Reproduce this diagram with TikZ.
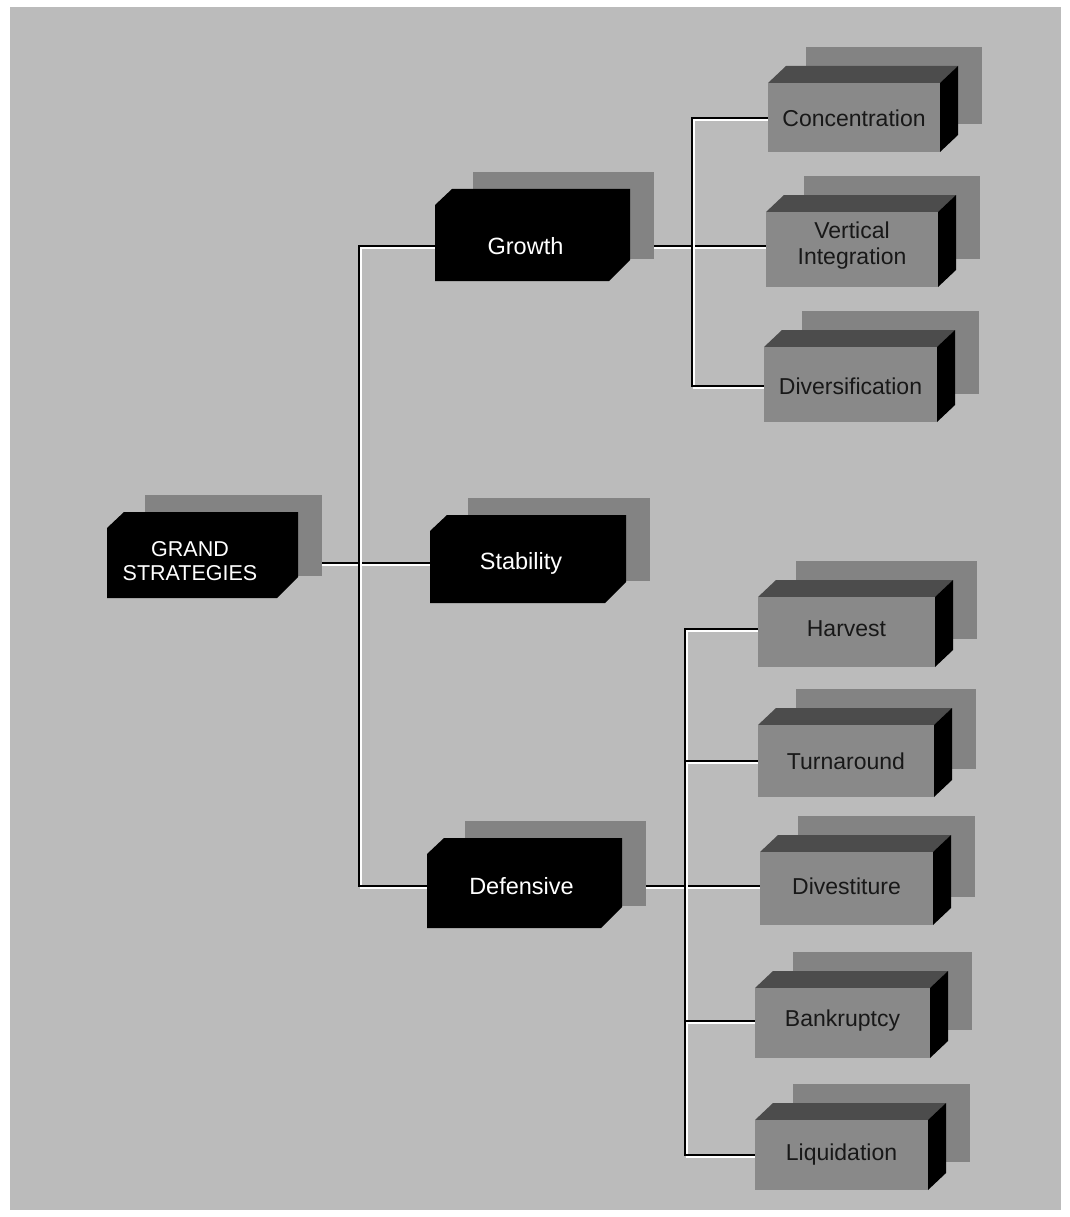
\documentclass[tikz,border=0pt]{standalone}
\usepackage{fontspec}
\setmainfont{Liberation Sans}
\usetikzlibrary{calc}
\pgfdeclarelayer{bg}
\pgfsetlayers{bg,main}
\definecolor{paper}{HTML}{BBBBBB}
\definecolor{shade}{HTML}{838383}
\definecolor{face}{HTML}{898989}
\definecolor{topface}{HTML}{4C4C4C}
\definecolor{textdark}{HTML}{181818}
\tikzset{
  conn/.style={line width=2.3pt, draw=black, line join=miter,
    preaction={draw=white, line width=1.6pt, transform canvas={shift={(1.9pt,-1.9pt)}}}},
  darklabel/.style={inner sep=0pt, text=white, font=\fontsize{23.5}{26}\selectfont},
  lightlabel/.style={inner sep=0pt, text=textdark, font=\fontsize{23}{26}\selectfont, align=center},
  shadowfill/.style={fill=shade},
  darkfill/.style={fill=black},
  topfill/.style={fill=topface},
  sidefill/.style={fill=black},
  frontfill/.style={fill=face}
}
% #1 name, #2 L, #3 T, #4 R, #5 B, #6 text y, #7 text shift (x2), #8 text
\newcommand\DarkBox[8]{%
  \fill[shadowfill] ({#2+38},{#3-17}) rectangle ({#4+24},{#5-22});
  \fill[darkfill] (#2,{#3+16}) -- ({#2+17},#3) -- (#4,#3) -- (#4,{#5-21}) -- ({#4-21},#5) -- (#2,#5) -- cycle;
  \node[darklabel, minimum width={(#4-#2)*1pt}] (#1) at ({(#2+#4)/2},#6) {\hspace*{#7pt}#8};
}
% #1 name, #2 L, #3 T, #4 R, #5 B, #6 text y, #7 text
\newcommand\LightBox[7]{%
  \fill[shadowfill] ({#2+38},{#3-36}) rectangle ({#4+42},{#5-28});
  \fill[topfill] (#2,#3) -- ({#2+18},{#3-17}) -- ({#4+18},{#3-17}) -- (#4,#3) -- cycle;
  \fill[sidefill] (#4,#3) -- ({#4+18},{#3-17}) -- ({#4+18},{#5-17}) -- (#4,#5) -- cycle;
  \fill[frontfill] (#2,#3) rectangle (#4,#5);
  \node[lightlabel, minimum width={(#4-#2)*1pt}] (#1) at ({(#2+#4)/2},#6) {#7};
}
\begin{document}
\begin{tikzpicture}[x=1pt,y=-1pt]
\useasboundingbox (0,0) rectangle (1069,1217);

% first-level boxes
\DarkBox{gs}{107}{512}{298}{598}{563}{-25}{\fontsize{21.5}{25}\selectfont\begin{tabular}{@{}c@{}}GRAND\\[-1pt]STRATEGIES\end{tabular}}
\DarkBox{growth}{435}{189}{630}{281}{246}{-14}{Growth}
\DarkBox{stab}{430}{515}{626}{603}{563}{-14}{Stability}
\DarkBox{def}{427}{838}{622}{928}{886}{-6}{Defensive}

% second-level boxes
\LightBox{conc}{768}{83}{940}{152}{118}{Concentration}
\LightBox{vi}{766}{212}{938}{287}{246}{Vertical\\Integration}
\LightBox{div}{764}{347}{937}{422}{386}{Diversification}
\LightBox{harv}{758}{597}{935}{667}{629}{Harvest}
\LightBox{turn}{758}{725}{934}{797}{761}{Turnaround}
\LightBox{divest}{760}{852}{933}{925}{886}{Divestiture}
\LightBox{bank}{755}{988}{930}{1058}{1021}{Bankruptcy}
\LightBox{liq}{755}{1120}{928}{1190}{1155}{Liquidation}

\begin{pgfonlayer}{bg}
  \fill[white] (0,0) rectangle (1069,1217);
  \fill[paper] (10,7) rectangle (1061,1210);
  \coordinate (j1) at (359,563);
  \coordinate (j2) at (692,246);
  \coordinate (j3) at (685,886);
  \draw[conn] (gs.east) -- (stab.west);
  \draw[conn] (growth.west) -| (j1) |- (def.west);
  \draw[conn] (growth.east) -- (vi.west);
  \draw[conn] (conc.west) -| (j2) |- (div.west);
  \draw[conn] (def.east) -- (divest.west);
  \draw[conn] (harv.west) -| (j3) |- (liq.west);
  \draw[conn] (j3 |- turn.west) -- (turn.west);
  \draw[conn] (j3 |- bank.west) -- (bank.west);
\end{pgfonlayer}
\end{tikzpicture}
\end{document}
